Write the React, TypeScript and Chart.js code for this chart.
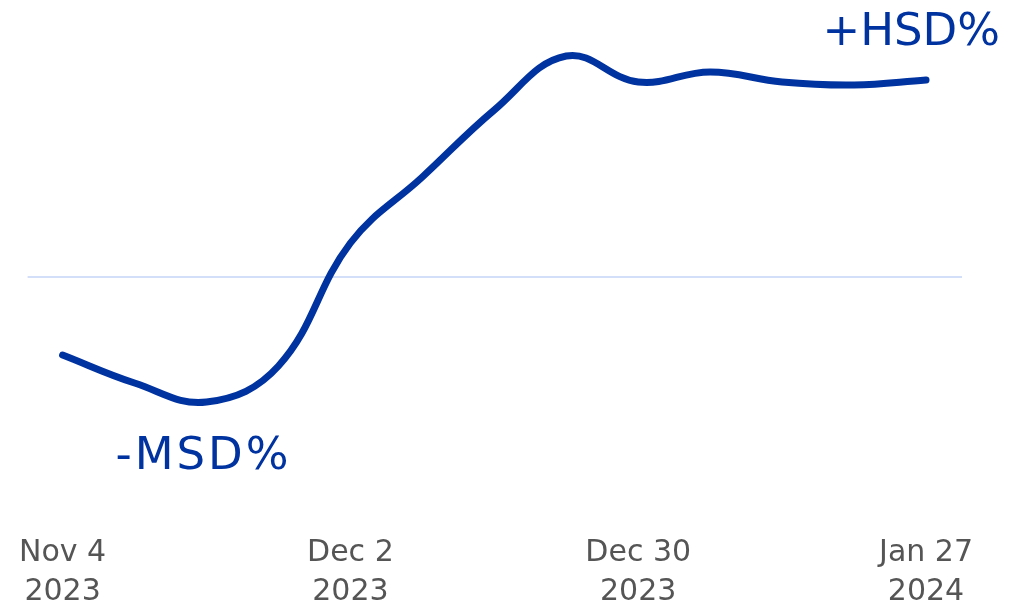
import React, { useEffect, useRef } from "react";
import { Chart, registerables } from "chart.js";

Chart.register(...registerables);

const weeks: string[] = [
  "Nov 4 2023", "Nov 11 2023", "Nov 18 2023", "Nov 25 2023",
  "Dec 2 2023", "Dec 9 2023", "Dec 16 2023", "Dec 23 2023",
  "Dec 30 2023", "Jan 6 2024", "Jan 13 2024", "Jan 20 2024", "Jan 27 2024",
];
const tickLabels: Record<number, string[]> = {
  0: ["Nov 4", "2023"],
  4: ["Dec 2", "2023"],
  8: ["Dec 30", "2023"],
  12: ["Jan 27", "2024"],
};
const values: number[] = [-78, -106, -125, -89, 34, 100, 167, 221, 195, 205, 195, 192, 197];
const lowLabel = "-MSD%";
const highLabel = "+HSD%";

const BLUE = "#0033A0";

const annotationPlugin = {
  id: "annots",
  beforeDatasetsDraw(chart: any) {
    const { ctx, chartArea, scales } = chart;
    const y0 = scales.y.getPixelForValue(0);
    ctx.save();
    ctx.strokeStyle = "#d3dff8";
    ctx.lineWidth = 2;
    ctx.beginPath();
    ctx.moveTo(chartArea.left + 1, y0);
    ctx.lineTo(chartArea.right, y0);
    ctx.stroke();
    ctx.restore();
  },
  afterDatasetsDraw(chart: any) {
    const { ctx } = chart;
    const meta = chart.getDatasetMeta(0);
    const minIdx = values.indexOf(Math.min(...values));
    const pMin = meta.data[minIdx];
    const pLast = meta.data[values.length - 1];
    ctx.save();
    ctx.fillStyle = BLUE;
    ctx.font = "45px 'DejaVu Sans'";
    ctx.textBaseline = "alphabetic";
    ctx.letterSpacing = "3px";
    ctx.textAlign = "left";
    ctx.fillText(lowLabel, pMin.x - 91, pMin.y + 67);
    ctx.letterSpacing = "0px";
    ctx.textAlign = "right";
    ctx.fillText(highLabel, pLast.x + 74, pLast.y - 35);
    ctx.restore();
  },
};

export default function App() {
  const ref = useRef<HTMLCanvasElement | null>(null);
  useEffect(() => {
    document.body.style.margin = "0";
    if (!ref.current) return;
    const chart = new Chart(ref.current, {
      type: "line",
      data: {
        labels: weeks,
        datasets: [
          {
            data: values,
            borderColor: BLUE,
            borderWidth: 7,
            borderCapStyle: "round",
            borderJoinStyle: "round",
            pointRadius: 0,
            tension: 0.4,
            fill: false,
          },
        ],
      },
      options: {
        animation: false,
        responsive: false,
        maintainAspectRatio: false,
        layout: { padding: { left: 26, right: 68, top: 10, bottom: 0 } },
        plugins: { legend: { display: false }, tooltip: { enabled: false } },
        scales: {
          x: {
            type: "category",
            offset: true,
            grid: { display: false },
            border: { display: false },
            afterFit: (scale: any) => {
              scale.height = 98;
            },
            ticks: {
              autoSkip: false,
              maxRotation: 0,
              color: "#555555",
              padding: 18,
              font: { family: "'DejaVu Sans'", size: 30, lineHeight: 1.3 },
              callback: (_v: any, i: number) => tickLabels[i] ?? "",
            },
          },
          y: {
            display: false,
            min: -231,
            max: 267,
          },
        },
      },
      plugins: [annotationPlugin],
    });
    return () => chart.destroy();
  }, []);
  return (
    <div style={{ width: 1030, height: 606 }}>
      <canvas ref={ref} width={1030} height={606} style={{ display: "block" }} />
    </div>
  );
}
